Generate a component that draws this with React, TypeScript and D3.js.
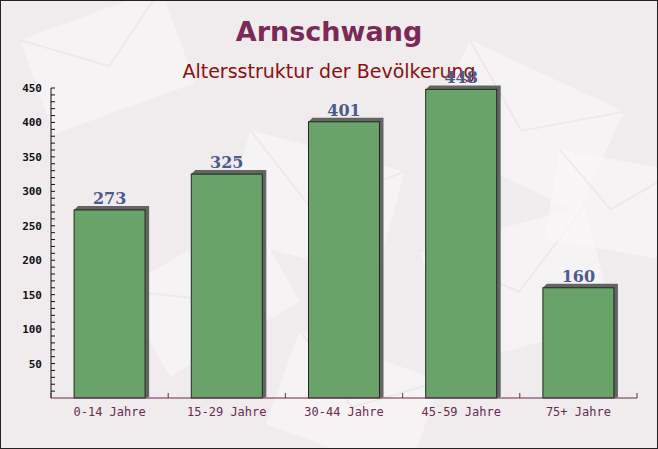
import React from "react";
import * as d3 from "d3";

const categories = ["0-14 Jahre", "15-29 Jahre", "30-44 Jahre", "45-59 Jahre", "75+ Jahre"];
const values = [273, 325, 401, 448, 160];
const yTicks = [50, 100, 150, 200, 250, 300, 350, 400, 450];

// decorative envelope shapes in the background
const envelopes = [
  { x: 20, y: 40, w: 150, h: 100, r: -20 },
  { x: 250, y: 130, w: 160, h: 110, r: 15 },
  { x: 470, y: 40, w: 170, h: 110, r: 25 },
  { x: 120, y: 290, w: 150, h: 100, r: -30 },
  { x: 420, y: 250, w: 170, h: 120, r: -15 },
  { x: 560, y: 150, w: 120, h: 90, r: 10 },
  { x: 300, y: 330, w: 150, h: 100, r: 20 },
];

const W = 658;
const H = 449;
const margin = { left: 51, right: 21, top: 88, bottom: 51 };

export default function App() {
  const x = d3
    .scaleBand<string>()
    .domain(categories)
    .range([margin.left, W - margin.right])
    .paddingInner(0.394)
    .paddingOuter(0.197);
  const y = d3.scaleLinear().domain([0, 450]).range([H - margin.bottom, margin.top]);
  const minor = d3.range(10, 451, 10);
  const bw = x.bandwidth();
  const bandStep = x.step();
  const bounds = d3.range(categories.length + 1).map((i) => margin.left + i * bandStep);

  return (
    <svg
      width={W}
      height={H}
      style={{ position: "absolute", left: 0, top: 0, display: "block" }}
    >
      <rect x={0} y={0} width={W} height={H} fill="#f0ecee" />
      {envelopes.map((e, i) => (
        <g key={i} transform={`translate(${e.x},${e.y}) rotate(${e.r})`} opacity={0.6}>
          <rect width={e.w} height={e.h} fill="#fbf9fa" />
          <path
            d={`M0,0 L${e.w / 2},${e.h * 0.55} L${e.w},0`}
            fill="none"
            stroke="#ece6e9"
            strokeWidth={2}
          />
        </g>
      ))}
      <rect x={0.5} y={0.5} width={W - 1} height={H - 1} fill="none" stroke="#222" />

      <text
        x={329}
        y={41}
        textAnchor="middle"
        fontFamily="'DejaVu Sans', Verdana, sans-serif"
        fontWeight="bold"
        fontSize={27}
        fill="#7b2a57"
      >
        Arnschwang
      </text>
      <text
        x={329}
        y={78}
        textAnchor="middle"
        fontFamily="'DejaVu Sans', Verdana, sans-serif"
        fontSize={19}
        fill="#8b1010"
      >
        Altersstruktur der Bevölkerung
      </text>

      {/* bars */}
      {values.map((v, i) => {
        const bx = x(categories[i])!;
        const by = y(v);
        const by0 = y(0);
        const d = 4;
        return (
          <g key={i}>
            <path
              d={`M${bx},${by} L${bx + d},${by - d} L${bx + bw + d},${by - d} L${bx + bw + d},${by0 - 1} L${bx + bw},${by0} Z`}
              fill="#555"
              opacity={0.9}
            />
            <rect
              x={bx}
              y={by}
              width={bw}
              height={by0 - by}
              fill="#6aa36a"
              stroke="#1d2a1d"
              strokeWidth={1}
            />
            <text
              x={bx + bw / 2}
              y={by - 6}
              textAnchor="middle"
              fontFamily="'DejaVu Serif', serif"
              fontWeight="bold"
              fontSize={16}
              fill="#4d5a8c"
            >
              {v}
            </text>
          </g>
        );
      })}

      {/* y axis */}
      <line x1={margin.left} x2={margin.left} y1={y(450)} y2={y(0)} stroke="#111" />
      {minor.map((t) => (
        <line key={t} x1={margin.left} x2={margin.left + 4} y1={y(t)} y2={y(t)} stroke="#111" />
      ))}
      {yTicks.map((t) => (
        <text
          key={t}
          x={42}
          y={y(t) + 4}
          textAnchor="end"
          fontFamily="'DejaVu Sans Mono', monospace"
          fontWeight="bold"
          fontSize={11}
          fill="#111"
        >
          {t}
        </text>
      ))}

      {/* x axis */}
      <line x1={margin.left} x2={W - margin.right} y1={y(0)} y2={y(0)} stroke="#6b2a50" />
      {bounds.map((b, i) => (
        <line key={i} x1={b} x2={b} y1={y(0)} y2={y(0) - 5} stroke="#6b2a50" />
      ))}
      {categories.map((c) => (
        <text
          key={c}
          x={x(c)! + bw / 2}
          y={416}
          textAnchor="middle"
          fontFamily="'DejaVu Sans Mono', monospace"
          fontSize={12}
          fill="#6b2a50"
        >
          {c}
        </text>
      ))}
    </svg>
  );
}
